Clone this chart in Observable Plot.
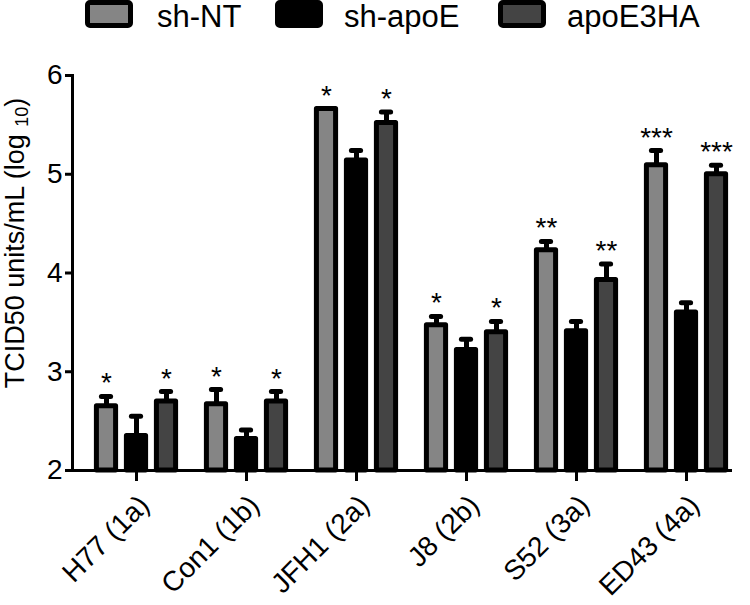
<!DOCTYPE html>
<html><head><meta charset="utf-8">
<script src="https://cdn.jsdelivr.net/npm/d3@7"></script>
<script src="https://cdn.jsdelivr.net/npm/@observablehq/plot@0.6"></script>
<style>
body{margin:0;background:#fff;font-family:Arial,"Liberation Sans",sans-serif;}
#legend{position:relative;width:750px;height:45px;}
.sw{position:absolute;top:0;width:38px;height:18px;border:5px solid #000;border-radius:5px;}
.lt{position:absolute;top:0px;font-size:31px;line-height:34px;color:#000;white-space:nowrap;}
</style></head><body>
<div id="legend"></div><div id="chart"></div>
<script>
const strains = ["H77 (1a)","Con1 (1b)","JFH1 (2a)","J8 (2b)","S52 (3a)","ED43 (4a)"];
const series = ["sh-NT","sh-apoE","apoE3HA"];
const colors = ["#858585","#000000","#444444"];
const shNT = [2.65,2.67,5.66,3.47,4.23,5.09];
const shNTErr = [0.10,0.15,0.0,0.09,0.09,0.15];
const shApoE = [2.35,2.32,5.14,3.22,3.41,3.60];
const shApoEErr = [0.20,0.09,0.10,0.11,0.10,0.10];
const apoE3HA = [2.70,2.70,5.52,3.40,3.93,5.00];
const apoE3HAErr = [0.10,0.10,0.11,0.11,0.16,0.09];
const shNTStars = ["*","*","*","*","**","***"];
const shApoEStars = ["","","","","",""];
const apoE3HAStars = ["*","*","*","*","**","***"];
const yTicks = [2,3,4,5,6];

const vals = [shNT, shApoE, apoE3HA];
const errs = [shNTErr, shApoEErr, apoE3HAErr];
const stars = [shNTStars, shApoEStars, apoE3HAStars];

// legend
const legend = document.getElementById("legend");
const swLeft = [85, 275, 498], txLeft = [157, 344, 567];
series.forEach((s, j) => {
  const sw = document.createElement("div");
  sw.className = "sw"; sw.style.left = swLeft[j] + "px"; sw.style.background = colors[j];
  legend.appendChild(sw);
  const t = document.createElement("div");
  t.className = "lt"; t.style.left = txLeft[j] + "px"; t.textContent = s;
  legend.appendChild(t);
});

const band = 110.8;
const marks = [];
series.forEach((s, j) => {
  const data = strains.map((st, i) => ({strain: st, series: s, value: vals[j][i], err: errs[j][i], stars: stars[j][i]}));
  const withErr = data.filter(d => d.err > 0);
  const dx = (j - 1) * 30;
  marks.push(Plot.ruleX(withErr, {x: "strain", y1: "value", y2: d => d.value + d.err, stroke: "#000", strokeWidth: 5, dx}));
  marks.push(Plot.tickY(withErr, {x: "strain", y: d => d.value + d.err, stroke: "#000", strokeWidth: 5, strokeLinecap: "round", insetLeft: (band - 10) / 2, insetRight: (band - 10) / 2, dx}));
  marks.push(Plot.barY(data, {x: "strain", y1: 2, y2: "value", fill: colors[j], stroke: "#000", strokeWidth: 5, strokeLinejoin: "round", insetLeft: (band - 20) / 2, insetRight: (band - 20) / 2, dx}));
  marks.push(Plot.text(data.filter(d => d.stars), {x: "strain", y: d => d.value + d.err, text: "stars", dx, dy: -4, lineAnchor: "bottom", fontSize: 28, fill: "#000"}));
});

const chart = Plot.plot({
  width: 750, height: 560,
  marginLeft: 72, marginRight: 20, marginTop: 30, marginBottom: 135,
  style: {fontFamily: "Arial, 'Liberation Sans', sans-serif", fontSize: "27px", color: "#000", background: "#fff"},
  x: {type: "band", domain: strains, range: [134 - band / 2, 134 + band * 5.5], padding: 0},
  y: {domain: [2, 6]},
  marks: [
    ...marks,
    Plot.frame({anchor: "left", stroke: "#000", strokeWidth: 3}),
    Plot.frame({anchor: "bottom", stroke: "#000", strokeWidth: 3}),
    Plot.axisY(yTicks, {tickSize: 7, tickPadding: 3, strokeWidth: 3, fontSize: 28, label: null, tickFormat: d3.format("d")}),
    Plot.axisX({tickSize: 11, strokeWidth: 3, label: null, text: null}),
    Plot.axisX({tickSize: 0, tickPadding: 30, tickRotate: -45, fontSize: 28, label: null, dx: 8})
  ]
});
document.getElementById("chart").appendChild(chart);

const svg = d3.select(chart);
const lab = svg.append("text")
  .attr("transform", "translate(24,198) rotate(-90)")
  .attr("text-anchor", "middle")
  .attr("font-size", 27)
  .attr("font-family", "Arial, 'Liberation Sans', sans-serif")
  .attr("fill", "#000");
lab.append("tspan").text("TCID50 units/mL (log ");
lab.append("tspan").attr("font-size", 18).attr("dy", 4).text("10");
lab.append("tspan").attr("dy", -4).text(")");
</script>
</body></html>
